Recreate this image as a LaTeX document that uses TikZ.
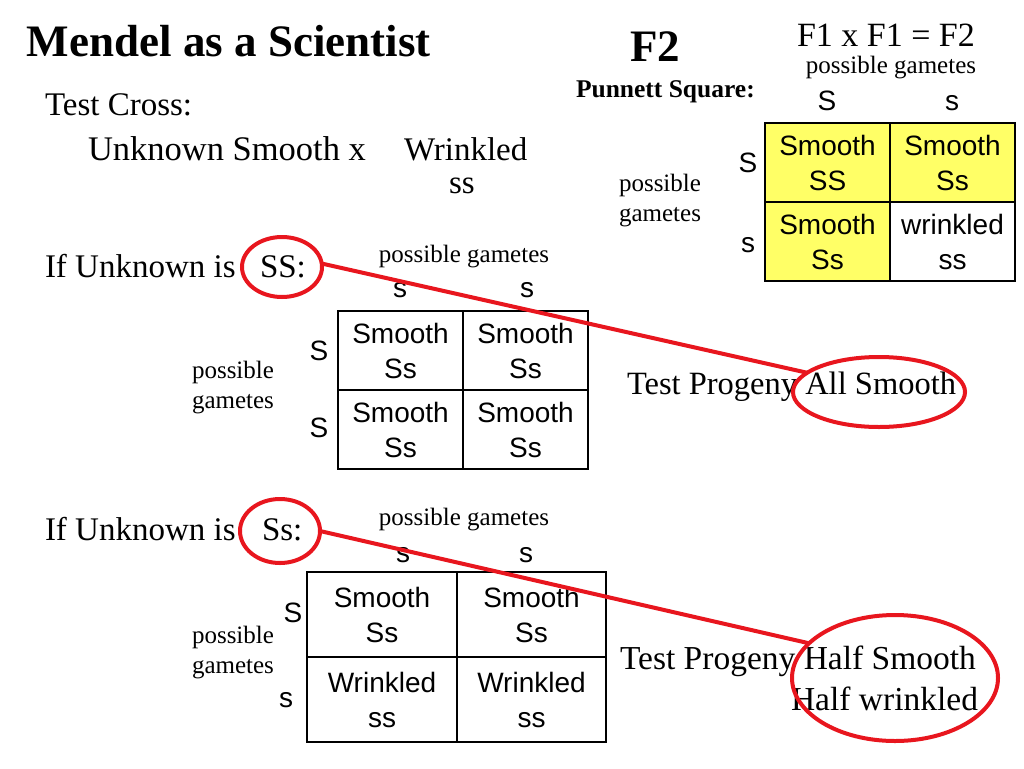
\documentclass[tikz,border=0pt]{standalone}
\usepackage{fontspec}
\setmainfont{Liberation Serif}
\newfontfamily\arialf{Liberation Sans}
\usetikzlibrary{shapes.geometric}
\newcommand{\myfs}[2]{\fontsize{#1}{#2}\selectfont}
\definecolor{myred}{RGB}{232,22,30}
\definecolor{myyellow}{RGB}{255,255,102}
\begin{document}
\begin{tikzpicture}[x=1pt,y=-1pt,
  txt/.style={inner sep=0pt,outer sep=0pt},
  title/.style={txt,anchor=base west,font=\bfseries\myfs{45}{50}},
  body/.style={txt,font=\myfs{33}{38}},
  small/.style={txt,anchor=base,font=\myfs{25}{30}},
  lab/.style={txt,anchor=base,font=\arialf\myfs{28}{32}},
  cell/.style={draw=black,line width=1.3pt,inner sep=0pt,outer sep=0pt,align=center,
    font=\arialf\myfs{28}{35}},
  yel/.style={cell,fill=myyellow},
  ring/.style={draw=myred,line width=4pt,ellipse,inner sep=0pt,outer sep=0pt},
  redline/.style={draw=myred,line width=4pt}
]
\useasboundingbox (0,0) rectangle (1024,768);

% titles
\node[title] (ttl) at (27,56.5) {Mendel as a Scientist};
\node[title] (f2) at (630,62) {F2};
\node[txt,anchor=base west,font=\myfs{34}{38}] (f1f1) at (797,47) {F1 x F1 = F2};
\node[small] (pgtop) at (891,73.5) {possible gametes};
\node[txt,anchor=base west,font=\bfseries\myfs{25.5}{30}] (pun) at (576,97) {Punnett Square:};

% test cross text
\node[body,anchor=base west] (tc) at (45,115) {Test Cross:};
\node[body,anchor=base west,font=\myfs{34.5}{38}] (uk) at (88,160) {Unknown Smooth x};
\node[body,anchor=base west] (wr) at (404,160) {Wrinkled};
\node[body,anchor=base west] (wss) at (449,193) {ss};

% F2 punnett square
\node[lab] (f2c1) at (827,110) {S};
\node[lab] (f2c2) at (952,110) {s};
\node[lab] (f2r1) at (748,172) {S};
\node[lab] (f2r2) at (748,252) {s};
\node[small] (f2pg1) at (660,191) {possible};
\node[small] (f2pg2) at (660,221) {gametes};
\node[yel,minimum width=125pt,minimum height=79pt] (q11) at (827.5,162.5) {Smooth\\SS};
\node[yel,minimum width=125pt,minimum height=79pt] (q12) at (952.5,162.5) {Smooth\\Ss};
\node[yel,minimum width=125pt,minimum height=79pt] (q21) at (827.5,241.5) {Smooth\\Ss};
\node[cell,fill=white,minimum width=125pt,minimum height=79pt] (q22) at (952.5,241.5) {wrinkled\\ss};

% first case
\node[body,anchor=base west] (if1) at (45,277) {If Unknown is};
\node[body,anchor=base west] (ss1) at (260,277) {SS:};
\node[small] (pga1) at (464,262) {possible gametes};
\node[lab] (a1c1) at (400,297) {s};
\node[lab] (a1c2) at (527,297) {s};
\node[lab] (a1r1) at (319,360) {S};
\node[lab] (a1r2) at (319,437) {S};
\node[small] (a1pg1) at (233,378) {possible};
\node[small] (a1pg2) at (233,408) {gametes};
\node[cell,minimum width=125pt,minimum height=79pt] (a11) at (400.5,350.5) {Smooth\\Ss};
\node[cell,minimum width=125pt,minimum height=79pt] (a12) at (525.5,350.5) {Smooth\\Ss};
\node[cell,minimum width=125pt,minimum height=79pt] (a21) at (400.5,429.5) {Smooth\\Ss};
\node[cell,minimum width=125pt,minimum height=79pt] (a22) at (525.5,429.5) {Smooth\\Ss};
\node[body,anchor=base west,font=\myfs{32.5}{38}] (tp1) at (627,394) {Test Progeny All Smooth};

% second case
\node[body,anchor=base west] (if2) at (45,540) {If Unknown is};
\node[body,anchor=base west] (ss2) at (262,540) {Ss:};
\node[small] (pga2) at (464,525) {possible gametes};
\node[lab] (b1c1) at (403,562) {s};
\node[lab] (b1c2) at (526,562) {s};
\node[lab] (b1r1) at (293,622) {S};
\node[lab] (b1r2) at (286,707) {s};
\node[small] (b1pg1) at (233,643) {possible};
\node[small] (b1pg2) at (233,673) {gametes};
\node[cell,minimum width=150pt,minimum height=85pt] (b11) at (382,614.5) {Smooth\\Ss};
\node[cell,minimum width=149pt,minimum height=85pt] (b12) at (531.5,614.5) {Smooth\\Ss};
\node[cell,minimum width=150pt,minimum height=85pt] (b21) at (382,699.5) {Wrinkled\\ss};
\node[cell,minimum width=149pt,minimum height=85pt] (b22) at (531.5,699.5) {Wrinkled\\ss};
\node[body,anchor=base west,font=\myfs{33.5}{38}] (tp2) at (620,669) {Test Progeny Half Smooth};
\node[body,anchor=base east,font=\myfs{33.5}{38}] (tp3) at (978,710) {Half wrinkled};

% red rings and connectors
\node[ring,minimum width=80pt,minimum height=60pt] (e1) at (282,267) {};
\node[ring,minimum width=172pt,minimum height=70pt] (e2) at (879,392) {};
\node[ring,minimum width=80pt,minimum height=64pt] (e3) at (280,531) {};
\node[ring,minimum width=206pt,minimum height=126pt] (e4) at (895,678) {};
\draw[redline] (e1.5) -- (e2.165);
\draw[redline] (e3.0) -- (e4.158);
\end{tikzpicture}
\end{document}
